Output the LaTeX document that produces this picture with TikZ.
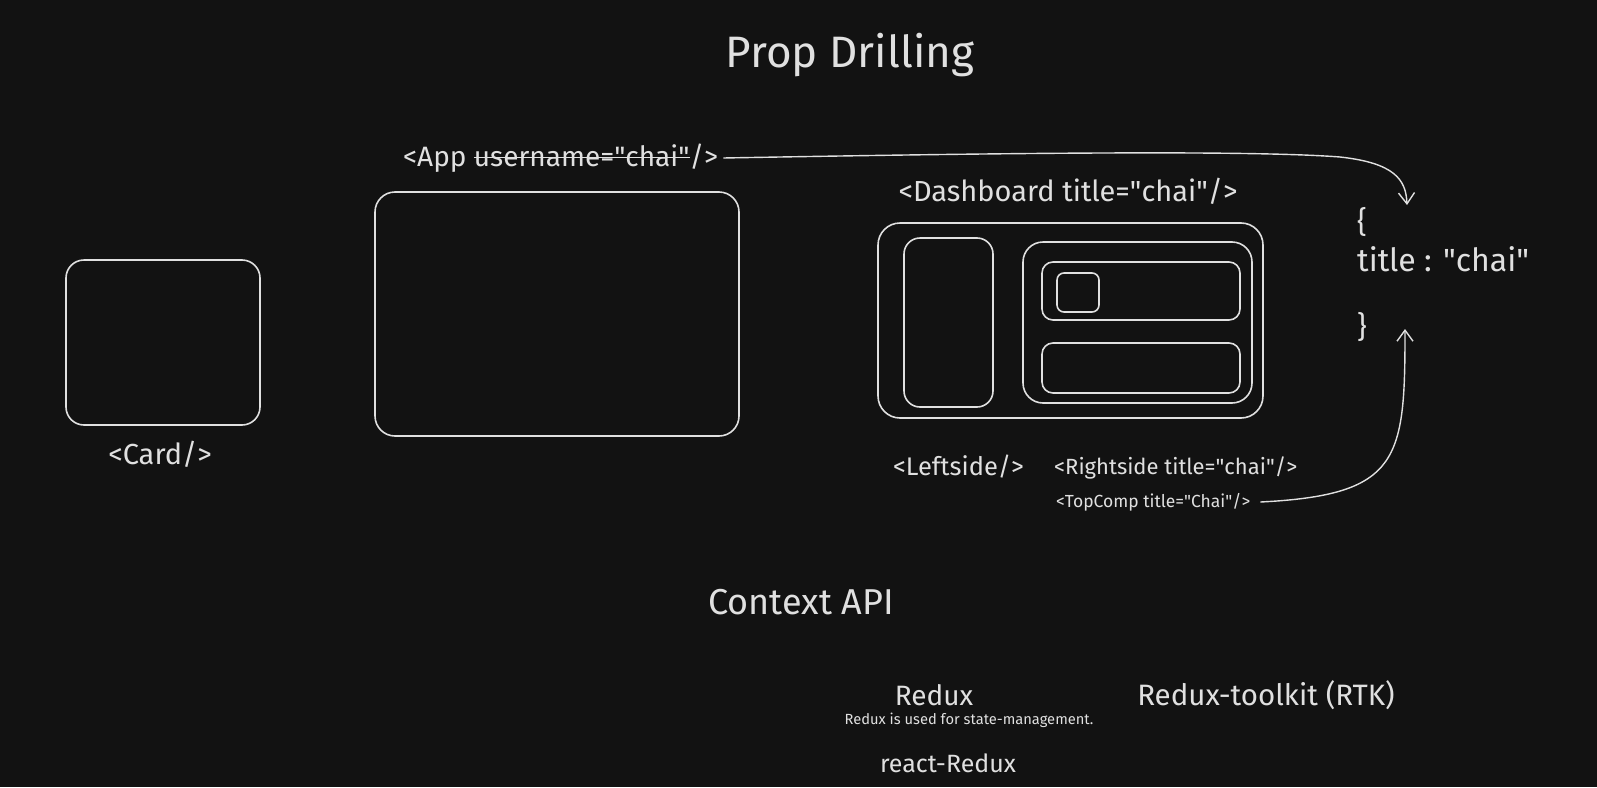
\documentclass[tikz,border=0pt]{standalone}
\usepackage{fontspec}
\setmainfont{Fira Sans}
\usetikzlibrary{arrows.meta}
\definecolor{bg}{HTML}{121212}
\definecolor{ink}{HTML}{E0E0E0}
\newcommand\mystrike[1]{\setbox0\hbox{#1}\rlap{\rule[0.28em]{\wd0}{1.6pt}}\box0}
\newcommand\fs[1]{\fontsize{#1}{#1}\selectfont}
\newcommand\q{\XeTeXglyph\XeTeXcharglyph"22\relax}
\tikzset{
  box/.style={draw=ink, line width=1.6pt, rounded corners=#1},
  lbl/.style={text=ink, inner sep=0pt, font=\fs{26}},
  conn/.style={draw=ink, line width=1.4pt, -{Straight Barb[length=11pt,width=16pt,line width=1.4pt]}}
}
\begin{document}
\begin{tikzpicture}[x=1pt,y=-1pt]
\fill[bg] (0,0) rectangle (1597,787);
\useasboundingbox (0,0) rectangle (1597,787);

% title
\node[lbl, font=\fs{44}] (title) at (850,55) {Prop Drilling};

% Card
\draw[box=18pt] (66,260) rectangle (260,425);
\node[lbl, font=\fs{29}] (card) at (160,454) {<Card/>};

% App
\draw[box=20pt] (375,192) rectangle (739,436);
\node[lbl, font=\fs{28}, anchor=west] (app) at (403,158) {<App \mystrike{username=\q chai\q}/>};

% Dashboard
\node[lbl, font=\fs{29}] (dash) at (1068,191) {<Dashboard title=\q chai\q/>};
\draw[box=22pt] (878,223) rectangle (1263,418);
\draw[box=16pt] (904,238) rectangle (993,407);
\draw[box=20pt] (1023,242) rectangle (1252,403);
\draw[box=11pt] (1042,262) rectangle (1240,320);
\draw[box=7pt] (1057,273) rectangle (1099,312);
\draw[box=11pt] (1042,343) rectangle (1240,393);

\node[lbl, font=\fs{25.5}, anchor=west] (left) at (893,467) {<Leftside/>};
\node[lbl, font=\fs{22}, anchor=west] (right) at (1054,468) {<Rightside title=\q chai\q/>};
\node[lbl, font=\fs{17.5}, anchor=west] (top) at (1056,502) {<TopComp title=\q Chai\q/>};

% object
\node[lbl, font=\fs{30}, anchor=west] (ob) at (1357,222) {\{};
\node[lbl, font=\fs{32}, anchor=west] (tt) at (1357,259) {title : \q chai\q};
\node[lbl, font=\fs{30}, anchor=west] (cb) at (1357,327) {\}};

\coordinate (topend) at (1407,205);
\coordinate (botend) at (1405,329);
\draw[conn] ([xshift=5pt]app.east) .. controls (1000,153) and (1250,150) .. (1340,157)
   .. controls (1395,163) and (1406,180) .. (topend);
\draw[conn] ([xshift=10pt]top.east) .. controls (1400,495) and (1405,460) .. (botend);

% Context API
\node[lbl, font=\fs{36}] (ctx) at (801,602) {Context API};
\node[lbl, font=\fs{28}] (redux) at (934,695) {Redux};
\node[lbl, font=\fs{14.7}] (rdesc) at (969,720) {Redux is used for state-management.};
\node[lbl, font=\fs{29.5}] (rtk) at (1266,695) {Redux-toolkit (RTK)};
\node[lbl, font=\fs{25}] (rr) at (948,763) {react-Redux};
\end{tikzpicture}
\end{document}
